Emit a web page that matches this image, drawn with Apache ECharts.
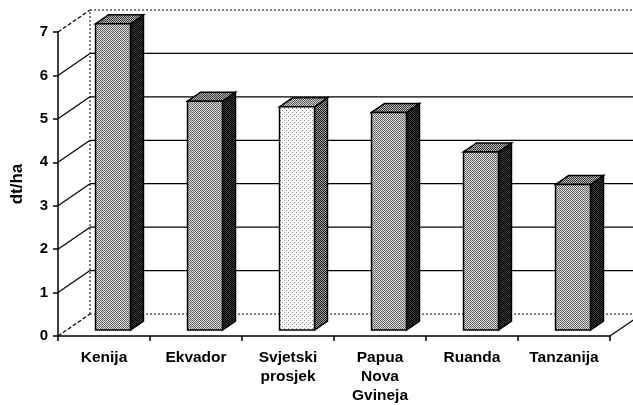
<!DOCTYPE html>
<html>
<head>
<meta charset="utf-8">
<script src="https://cdn.jsdelivr.net/npm/echarts@6/dist/echarts.min.js"></script>
<style>
html, body { margin: 0; padding: 0; background: #fff; }
#main { width: 633px; height: 405px; }
</style>
</head>
<body>
<div id="main"></div>
<script>
// podaci
const categories = ['Kenija', 'Ekvador', 'Svjetski\nprosjek', 'Papua\nNova\nGvineja', 'Ruanda', 'Tanzanija'];
const values = [7.05, 5.27, 5.14, 5.01, 4.1, 3.35];
const yTicks = [0, 1, 2, 3, 4, 5, 6, 7];
const avgCategory = 'Svjetski\nprosjek';

// 3D pomaci (stražnji zid i dubina stupca)
const DX = 32, DY = -22;
const FX = 9, FY = -6;
const BX = 13, BY = -9;
const FONT = '"Liberation Sans", Arial, sans-serif';

// rasterske teksture kao u originalu
function pattern(size, bg, fg, cells) {
  const c = document.createElement('canvas');
  c.width = size; c.height = size;
  const ctx = c.getContext('2d');
  ctx.fillStyle = bg;
  ctx.fillRect(0, 0, size, size);
  ctx.fillStyle = fg;
  cells.forEach(p => ctx.fillRect(p[0], p[1], 1, 1));
  return { image: c, repeat: 'repeat' };
}
const checker = [[0, 0], [1, 1]];
const fills = {
  front: pattern(2, '#d6d6d6', '#6c6c6c', checker),
  side: pattern(2, '#3a3a3a', '#000000', checker),
  top: pattern(2, '#b4b4b4', '#3c3c3c', checker),
  avgFront: pattern(4, '#fbfbfb', '#8a8a8a', [[0, 0], [2, 2]]),
  avgSide: pattern(2, '#9a9a9a', '#1e1e1e', checker),
  avgTop: pattern(2, '#d0d0d0', '#5a5a5a', checker)
};

const chart = echarts.init(document.getElementById('main'));

function wallItem(params, api) {
  const v = api.value(0);
  const cs = params.coordSys;
  const left = cs.x, right = cs.x + cs.width;
  const y = api.coord([0, v])[1];
  const edge = (v === yTicks[0] || v === yTicks[yTicks.length - 1]);
  const children = [
    { type: 'line', shape: { x1: left, y1: y, x2: left + DX, y2: y + DY },
      style: { stroke: '#000', lineWidth: 1.2, lineDash: edge ? [4, 2] : null } },
    { type: 'line', shape: { x1: left + DX, y1: y + DY, x2: right + DX, y2: y + DY },
      style: { stroke: '#000', lineWidth: edge ? 1 : 1.3, lineDash: edge ? [2, 2] : null } }
  ];
  if (v === yTicks[0]) {
    const yTop = api.coord([0, yTicks[yTicks.length - 1]])[1];
    children.push({ type: 'line', shape: { x1: left + DX, y1: y + DY, x2: left + DX, y2: yTop + DY },
      style: { stroke: '#000', lineWidth: 1, lineDash: [2, 2] } });
    children.push({ type: 'line', shape: { x1: right, y1: y, x2: right + DX, y2: y + DY },
      style: { stroke: '#000', lineWidth: 1.2 } });
  }
  return { type: 'group', children: children };
}

function barItem(params, api) {
  const i = api.value(0);
  const v = api.value(1);
  const base = api.coord([i, 0]);
  const top = api.coord([i, v]);
  const band = api.size([1, 0])[0];
  const w = band * 0.38;
  const x0 = base[0] + FX - w / 2, x1 = x0 + w;
  const yb = base[1] + FY, yt = top[1] + FY;
  const isAvg = categories[i] === avgCategory;
  const st = { stroke: '#000', lineWidth: 1.5, lineJoin: 'miter' };
  return {
    type: 'group',
    children: [
      { type: 'polygon', shape: { points: [[x1, yt], [x1 + BX, yt + BY], [x1 + BX, yb + BY], [x1, yb]] },
        style: Object.assign({ fill: isAvg ? fills.avgSide : fills.side }, st) },
      { type: 'polygon', shape: { points: [[x0, yt], [x0 + BX, yt + BY], [x1 + BX, yt + BY], [x1, yt]] },
        style: Object.assign({ fill: isAvg ? fills.avgTop : fills.top }, st) },
      { type: 'polygon', shape: { points: [[x0, yt], [x1, yt], [x1, yb], [x0, yb]] },
        style: Object.assign({ fill: isAvg ? fills.avgFront : fills.front }, st) }
    ]
  };
}

const option = {
  animation: false,
  backgroundColor: '#fff',
  grid: { left: 58, right: 23, top: 32, bottom: 66, containLabel: false },
  xAxis: {
    type: 'category',
    data: categories,
    boundaryGap: true,
    axisLine: { show: true, lineStyle: { color: '#000', width: 1.5 } },
    axisTick: { show: true, length: 5, lineStyle: { color: '#000', width: 1.5 } },
    axisLabel: { color: '#000', fontFamily: FONT, fontWeight: 'bold', fontSize: 15.5, lineHeight: 19, margin: 12, interval: 0 },
    splitLine: { show: false }
  },
  yAxis: {
    type: 'value',
    min: 0,
    max: 7,
    interval: 1,
    name: 'dt/ha',
    nameLocation: 'middle',
    nameRotate: 90,
    nameGap: 32,
    nameTextStyle: { color: '#000', fontFamily: FONT, fontWeight: 'bold', fontSize: 17 },
    axisLine: { show: true, lineStyle: { color: '#000', width: 1.5 } },
    axisTick: { show: true, length: 5, lineStyle: { color: '#000', width: 1.5 } },
    axisLabel: { color: '#000', fontFamily: FONT, fontWeight: 'bold', fontSize: 15, margin: 10 },
    splitLine: { show: false }
  },
  series: [
    {
      type: 'custom',
      name: 'walls',
      clip: false,
      silent: true,
      renderItem: wallItem,
      data: yTicks.map(t => [t]),
      z: 1
    },
    {
      type: 'custom',
      name: 'dt/ha',
      clip: false,
      renderItem: barItem,
      encode: { x: 0, y: 1 },
      data: values.map((v, i) => [i, v]),
      z: 2
    }
  ]
};
chart.setOption(option);
</script>
</body>
</html>
